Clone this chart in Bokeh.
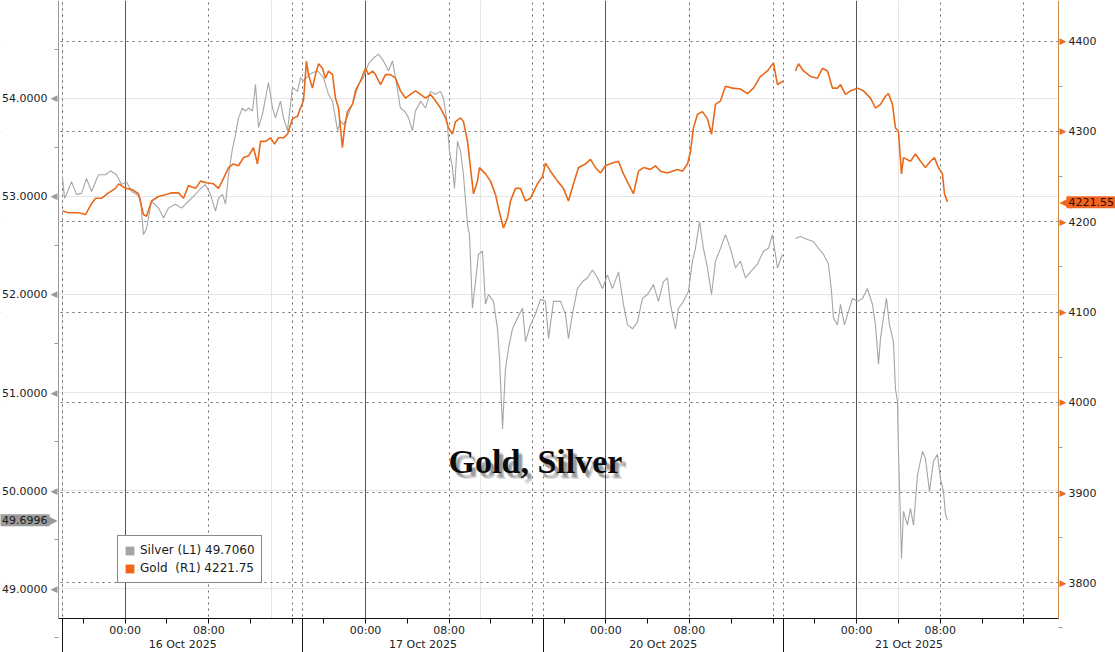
import numpy as np
from bokeh.plotting import figure
from bokeh.models import (Range1d, LinearAxis, FixedTicker, PrintfTickFormatter,
                          Grid, Label, Legend, LegendItem, BoxAnnotation)
from bokeh.embed import file_html
from bokeh.resources import INLINE

# ---------------- data ----------------
# x = trading hours since the 16 Oct session open (18:00 on 15 Oct); daily/weekend breaks compressed
silver_hours = [0.0, 0.19, 0.38, 0.86, 1.34, 1.82, 2.30, 2.78, 3.44, 4.11, 4.59, 5.17, 5.65, 6.12, 6.60,
                7.08, 7.46, 7.75, 8.04, 8.52, 9.19, 9.67, 10.14, 10.81, 11.39, 12.06, 12.73,
                13.21, 13.68, 14.16, 14.64, 14.93, 15.31, 15.60, 15.89, 16.27, 16.56,
                16.84, 17.22, 17.51, 17.80, 18.18, 18.47, 18.76, 19.14, 19.43, 19.71,
                20.10, 20.38, 20.86, 21.15, 21.53, 22.01, 22.49, 22.78, 23.06, 23.73,
                24.40, 24.98, 25.45, 25.84, 26.12, 26.32, 26.60, 26.89, 27.37, 27.85,
                28.33, 28.80, 29.28, 29.76, 30.24, 30.72, 31.20, 31.58, 31.87, 32.34,
                32.73, 33.11, 33.49, 33.78, 34.26, 34.74, 35.22, 35.69, 36.17, 36.46,
                36.84, 37.03, 37.32, 37.51, 37.80, 38.09, 38.37, 38.76, 38.95,
                39.23, 39.52, 39.81, 40.19, 40.48, 40.77, 41.24, 41.63, 41.82, 42.11,
                42.39, 42.68, 43.06, 43.54, 44.02, 44.31, 44.78, 45.26, 45.74, 46.22,
                46.51, 46.99, 47.66, 48.13, 48.42, 48.80, 49.28, 49.76, 50.24, 50.72,
                51.20, 51.67, 52.15, 52.63, 53.21, 53.68, 54.07, 54.55, 55.02, 55.50,
                55.98, 56.56, 57.03, 57.51, 57.89, 58.18, 58.66, 58.95, 59.43, 59.90,
                60.29, 60.57, 60.96, 61.34, 61.72, 62.11, 62.49, 62.97, 63.44, 63.92,
                64.40, 64.88, 65.36, 65.84, 66.51, 67.08, 67.56, 67.94, 68.42, 68.90, 69.50,
                70.14, 70.62, 71.29, 71.87, 72.34, 72.82, 73.30, 73.59, 73.78, 74.16, 74.45, 74.83, 75.22,
                75.60, 76.08, 76.56, 77.03, 77.51, 77.80, 78.09, 78.28, 78.56, 78.85, 79.14, 79.52, 79.71,
                79.90, 80.00, 80.19, 80.29, 80.48, 80.86, 81.15, 81.44, 81.82, 82.30, 82.58, 82.97, 83.35,
                83.73, 84.02, 84.31, 84.50, 84.69]
silver_values = [53.20, 52.98, 53.02, 53.15, 53.02, 53.03, 53.18, 53.05, 53.22, 53.22, 53.26, 53.22, 53.12,
                 53.15, 53.05, 53.02, 52.98, 52.61, 52.67, 52.95, 52.88, 52.78, 52.88, 52.92, 52.88, 52.95,
                 53.02,
                 53.08, 53.12, 53.02, 52.85, 52.98, 53.02, 52.92, 53.22, 53.49, 53.63,
                 53.80, 53.90, 53.87, 53.90, 53.87, 54.14, 53.70, 53.84, 54.00, 54.16,
                 53.90, 53.80, 53.97, 53.80, 53.67, 54.11, 54.07, 54.21, 54.18, 54.25,
                 54.28, 54.21, 54.04, 53.97, 53.80, 53.67, 53.77, 53.73, 53.84, 53.97,
                 54.14, 54.21, 54.35, 54.41, 54.45, 54.38, 54.28, 54.38, 54.21, 53.90,
                 53.87, 53.80, 53.67, 53.87, 53.97, 53.90, 54.07, 54.04, 54.07, 54.00,
                 53.73, 53.46, 53.29, 53.08, 53.56, 53.46, 53.22, 52.71, 52.61,
                 51.86, 52.13, 52.41, 52.44, 51.90, 52.00, 51.93, 51.65, 51.35, 50.63,
                 51.24, 51.45, 51.65, 51.76, 51.86, 51.52, 51.69, 51.80, 51.95, 51.93,
                 51.55, 51.93, 51.93, 51.80, 51.55, 51.80, 52.06, 52.13, 52.17, 52.25,
                 52.17, 52.06, 52.20, 52.06, 52.23, 51.90, 51.69, 51.65, 51.72, 51.96,
                 52.00, 52.10, 51.93, 52.13, 52.17, 51.90, 51.65, 51.86, 51.93, 52.03,
                 52.34, 52.47, 52.74, 52.47, 52.27, 52.00, 52.34, 52.47, 52.61, 52.47,
                 52.27, 52.34, 52.17, 52.23, 52.31, 52.44, 52.47, 52.61, 52.27, 52.41, np.nan,
                 52.57, 52.59, 52.56, 52.54, 52.47, 52.41, 52.31, 52.03, 51.76, 51.69, 51.90, 51.69, 51.83,
                 51.96, 51.93, 51.96, 52.06, 51.90, 51.69, 51.29, 51.55, 51.76, 51.96, 51.69, 51.52, 51.04,
                 50.91, 50.40, 49.71, 49.31, 49.79, 49.65, 49.82, 49.65, 50.16, 50.40, 50.33, 49.99, 50.30,
                 50.37, 50.12, 49.99, 49.76, 49.70]

gold_hours = [0.0, 0.57, 1.53, 2.20, 2.78, 3.16, 3.73, 4.40, 5.07, 5.36, 6.03, 6.60, 7.27, 7.75, 8.04, 8.52,
              9.19, 9.86, 10.43, 11.10, 11.58, 12.06, 12.73,
              13.21, 13.88, 14.45, 14.93, 15.41, 15.89, 16.36, 16.84, 17.32, 17.80,
              18.28, 18.66, 18.95, 19.43, 19.90, 20.29, 20.67, 21.15, 21.53, 22.01,
              22.49, 22.78, 23.06, 23.35, 23.54, 23.92, 24.21, 24.50, 24.88, 25.17,
              25.45, 25.84, 26.12, 26.41, 26.79, 26.99, 27.27, 27.75, 28.04, 28.52,
              29.00, 29.28, 29.67, 29.95, 30.43, 30.91, 31.39, 31.87, 32.34, 32.82,
              33.30, 33.78, 34.26, 34.74, 35.22, 35.69, 36.17, 36.65, 36.94, 37.32,
              37.61, 38.09, 38.37, 38.76, 39.04, 39.33, 39.71, 39.90,
              40.48, 40.96, 41.44, 41.72, 42.20, 42.58, 42.87, 43.35, 43.83, 44.31,
              44.78, 45.45, 45.93, 46.22, 46.70, 47.37, 47.94, 48.42, 48.90, 49.38,
              50.05, 50.53, 51.00, 51.48, 51.96, 52.63, 53.21, 53.68, 54.16, 54.64,
              55.12, 55.60, 56.27, 56.75, 57.22, 57.89, 58.37, 58.85, 59.33, 59.81,
              60.10, 60.38, 60.77, 61.24, 61.72, 62.11, 62.49, 62.97, 63.44, 64.11,
              64.88, 65.55, 66.12, 66.79, 67.46, 68.04, 68.42, 68.99, 69.50,
              70.14, 70.43, 70.91, 71.58, 72.25, 72.73, 73.21, 73.68, 74.16, 74.45, 74.93, 75.41, 76.08, 76.65,
              77.32, 77.80, 78.28, 78.76, 79.04, 79.43, 79.71, 80.00, 80.29, 80.48, 81.15, 81.63, 82.11, 82.58,
              83.06, 83.44, 83.83, 84.21, 84.40, 84.69]
gold_values = [4212, 4210, 4210, 4208, 4220, 4226, 4226, 4232, 4237, 4242, 4237, 4236, 4231, 4208, 4206, 4223,
               4228, 4230, 4232, 4232, 4226, 4240, 4237,
               4245, 4243, 4242, 4237, 4248, 4260, 4264, 4262, 4271, 4273,
               4282, 4264, 4289, 4289, 4293, 4286, 4293, 4293, 4297, 4314,
               4317, 4326, 4334, 4378, 4363, 4348, 4363, 4375, 4370, 4359,
               4367, 4363, 4337, 4326, 4282, 4304, 4322, 4330, 4345, 4356,
               4370, 4363, 4367, 4363, 4352, 4363, 4363, 4359, 4345, 4337,
               4341, 4345, 4341, 4337, 4341, 4334, 4326, 4315, 4304, 4297,
               4311, 4315, 4311, 4289, 4260, 4231, 4245, 4260,
               4253, 4245, 4230, 4215, 4193, 4204, 4223, 4237, 4237, 4223,
               4226, 4242, 4250, 4265, 4256, 4245, 4237, 4223, 4242, 4260,
               4264, 4269, 4260, 4254, 4262, 4265, 4267, 4253, 4242, 4231,
               4256, 4260, 4258, 4262, 4256, 4254, 4256, 4258, 4256, 4264,
               4278, 4304, 4319, 4322, 4314, 4297, 4330, 4334, 4350, 4348,
               4347, 4342, 4348, 4361, 4367, 4376, 4352, 4356, np.nan,
               4367, 4375, 4367, 4361, 4359, 4370, 4367, 4348, 4348, 4352, 4341, 4345, 4348, 4345,
               4337, 4326, 4330, 4339, 4342, 4330, 4304, 4300, 4253, 4271, 4267, 4275, 4267, 4260,
               4267, 4271, 4260, 4253, 4231, 4222]

session_starts = [0, 23, 46, 69]
session_centers = [11.5, 34.5, 57.5, 81]
session_dates = ["16 Oct 2025", "17 Oct 2025", "20 Oct 2025", "21 Oct 2025"]
midnights = [6, 29, 52, 76]
mornings = [14, 37, 60, 84]
afternoons = [22, 45, 68, 92]
four_hour_ticks = [2, 6, 10, 14, 18, 22, 25, 29, 33, 37, 41, 45, 48, 52, 56, 60, 64, 68,
                   72, 76, 80, 84, 88, 92]
silver_ticks = [49, 50, 51, 52, 53, 54]
silver_minor = [48.5, 49.5, 50.5, 51.5, 52.5, 53.5, 54.5]
gold_ticks = [3800, 3900, 4000, 4100, 4200, 4300, 4400]
gold_minor = [3750, 3850, 3950, 4050, 4150, 4250, 4350, 4450]
last_silver = 49.6996
last_gold = 4221.55
legend_labels = ["Silver (L1) 49.7060", "Gold  (R1) 4221.75"]
chart_title = "Gold, Silver"

# ---------------- layout / styling ----------------
SILVER = "#a5a5a5"
GOLD = "#e8691a"
FONT = "DejaVu Sans"
W, H = 1115, 652
# full-canvas frame; the plotting area is the part between these data limits
XA, XB = -5.933, 100.77          # canvas edges in trading hours
X0, X1 = -0.383, 95.31           # left / right axis positions
LA, LB = 48.351, 54.996          # canvas bottom/top on the silver scale
L0 = 48.697                      # bottom axis position on the silver scale
RA, RB = 3722.8, 4445.09         # canvas bottom/top on the gold scale
R0 = 3760.47                     # bottom axis position on the gold scale

p = figure(width=W, height=H, output_backend="svg", toolbar_location=None,
           x_axis_location=None, y_axis_location=None,
           x_range=Range1d(XA, XB), y_range=Range1d(LA, LB),
           min_border_left=0, min_border_right=0, min_border_top=0, min_border_bottom=0,
           background_fill_color="white", border_fill_color="white")
p.outline_line_color = None
p.extra_y_ranges = {"gold": Range1d(RA, RB)}

# grids (then masked outside the plotting area)
p.add_layout(Grid(dimension=1, y_range_name="gold", ticker=FixedTicker(ticks=gold_ticks),
                  grid_line_color="#666666", grid_line_dash="2 4", grid_line_width=1))
p.add_layout(Grid(dimension=0, ticker=FixedTicker(ticks=session_starts + mornings + afternoons),
                  grid_line_color="#666666", grid_line_dash="2 4", grid_line_width=1))
p.add_layout(Grid(dimension=0, ticker=FixedTicker(ticks=midnights),
                  grid_line_color="#555555", grid_line_width=1))
for kw in (dict(right=X0), dict(left=X1), dict(top=L0)):
    p.add_layout(BoxAnnotation(fill_color="white", fill_alpha=1, line_color=None,
                               level="underlay", **kw))

# lines
p.line(silver_hours, silver_values, line_color=SILVER, line_width=1.1)
p.line(gold_hours, gold_values, y_range_name="gold", line_color=GOLD, line_width=1.6)


def style_labels(ax, size="11px", color="#222222"):
    ax.major_label_text_font = FONT
    ax.major_label_text_font_size = size
    ax.major_label_text_color = color


# left axis (silver)
ya = LinearAxis(fixed_location=X0, bounds=(L0, LB),
                ticker=FixedTicker(ticks=silver_ticks, minor_ticks=silver_minor),
                formatter=PrintfTickFormatter(format="%.4f"))
ya.axis_line_color = "#9a9a9a"
ya.major_tick_out = 7
ya.major_tick_in = 0
ya.major_tick_line_color = None
ya.minor_tick_out = 4
ya.minor_tick_in = 0
ya.minor_tick_line_color = "#9a9a9a"
ya.major_label_standoff = 4
style_labels(ya)
p.add_layout(ya, "left")

# right axis (gold)
ra = LinearAxis(fixed_location=X1, y_range_name="gold", bounds=(R0, RB),
                ticker=FixedTicker(ticks=gold_ticks, minor_ticks=gold_minor),
                formatter=PrintfTickFormatter(format="%d"))
ra.axis_line_color = "#d08a45"
ra.major_tick_out = 7
ra.major_tick_in = 0
ra.major_tick_line_color = None
ra.minor_tick_out = 4
ra.minor_tick_in = 0
ra.minor_tick_line_color = "#9a9a9a"
ra.major_label_standoff = 3
style_labels(ra)
p.add_layout(ra, "right")

# bottom axis: hours
overrides = {t: "" for t in four_hour_ticks}
overrides.update({t: "00:00" for t in midnights})
overrides.update({t: "08:00" for t in mornings})
xa = LinearAxis(fixed_location=L0, bounds=(X0, X1),
                ticker=FixedTicker(ticks=four_hour_ticks, minor_ticks=[]),
                major_label_overrides=overrides)
xa.axis_line_color = "#111111"
xa.major_tick_out = 5
xa.major_tick_in = 0
xa.minor_tick_out = 0
xa.major_tick_line_color = "#111111"
xa.major_label_standoff = 0
style_labels(xa)
p.add_layout(xa, "below")

# bottom axis: dates with session separators
da = LinearAxis(fixed_location=L0, bounds=(X0, X1),
                ticker=FixedTicker(ticks=session_centers, minor_ticks=session_starts),
                major_label_overrides=dict(zip(session_centers, session_dates)))
da.axis_line_color = None
da.major_tick_line_color = None
da.major_tick_out = 0
da.major_tick_in = 0
da.minor_tick_in = 0
da.minor_tick_out = 34
da.minor_tick_line_color = "#111111"
da.major_label_standoff = -15
style_labels(da)
p.add_layout(da, "below")

# triangle tick markers on the value axes
for t in silver_ticks:
    p.add_layout(Label(x=X0, y=t, x_offset=-1, text="◀", text_align="right",
                       text_baseline="middle", text_font=FONT, text_font_size="9px",
                       text_color="#9a9a9a"))
for t in gold_ticks:
    p.add_layout(Label(x=X1, y=t, y_range_name="gold", x_offset=1, text="▶", text_align="left",
                       text_baseline="middle", text_font=FONT, text_font_size="9px",
                       text_color="#e8701e"))

# last value tags
p.add_layout(Label(x=X0, y=last_silver, x_offset=-1, text="▶", text_align="right",
                   text_baseline="middle", text_font=FONT, text_font_size="15px",
                   text_color="#9b9b9b"))
p.add_layout(Label(x=X0, y=last_silver, x_offset=-9, text=f"{last_silver:.4f}",
                   text_align="right", text_baseline="middle", text_font=FONT,
                   text_font_size="11px", text_color="#1a1a1a", background_fill_color="#9b9b9b",
                   padding=2))
p.add_layout(Label(x=X1, y=last_gold, y_range_name="gold", x_offset=1, text="◀",
                   text_align="left", text_baseline="middle", text_font=FONT,
                   text_font_size="15px", text_color="#f26522"))
p.add_layout(Label(x=X1, y=last_gold, y_range_name="gold", x_offset=8, text=f"{last_gold:.2f}",
                   text_align="left", text_baseline="middle", text_font=FONT,
                   text_font_size="11px", text_color="#2a0e00", background_fill_color="#f26522",
                   padding=2))

# title with soft shadow
for dx, dy, a in [(3, -4, 0.12), (4, -5, 0.16), (5, -6, 0.12), (4, -3, 0.08)]:
    p.add_layout(Label(x=535 + dx, y=191 + dy, x_units="screen", y_units="screen", text=chart_title,
                       text_align="center", text_baseline="alphabetic", text_font="Liberation Serif",
                       text_font_style="bold", text_font_size="34px", text_color="black",
                       text_alpha=a))
p.add_layout(Label(x=535, y=191, x_units="screen", y_units="screen", text=chart_title,
                   text_align="center", text_baseline="alphabetic", text_font="Liberation Serif",
                   text_font_style="bold", text_font_size="34px", text_color="#0a0a0a"))

# legend with square swatches (renderers hold a single empty point)
sw_s = p.quad(left=[np.nan], right=[np.nan], top=[np.nan], bottom=[np.nan],
              fill_color=SILVER, line_color=None)
sw_g = p.quad(left=[np.nan], right=[np.nan], top=[np.nan], bottom=[np.nan],
              fill_color="#f06418", line_color=None)
legend = Legend(items=[LegendItem(label=legend_labels[0], renderers=[sw_s]),
                       LegendItem(label=legend_labels[1], renderers=[sw_g])],
                location=(117, 69), orientation="vertical",
                glyph_width=11, glyph_height=11, label_height=16, label_standoff=5,
                padding=6, spacing=2, margin=0,
                label_text_font=FONT, label_text_font_size="12px", label_text_color="#1a1a1a",
                border_line_color="#111111", border_line_width=1,
                background_fill_color="white", background_fill_alpha=1)
p.add_layout(legend)

open("out.html", "w").write(file_html(p, INLINE))
